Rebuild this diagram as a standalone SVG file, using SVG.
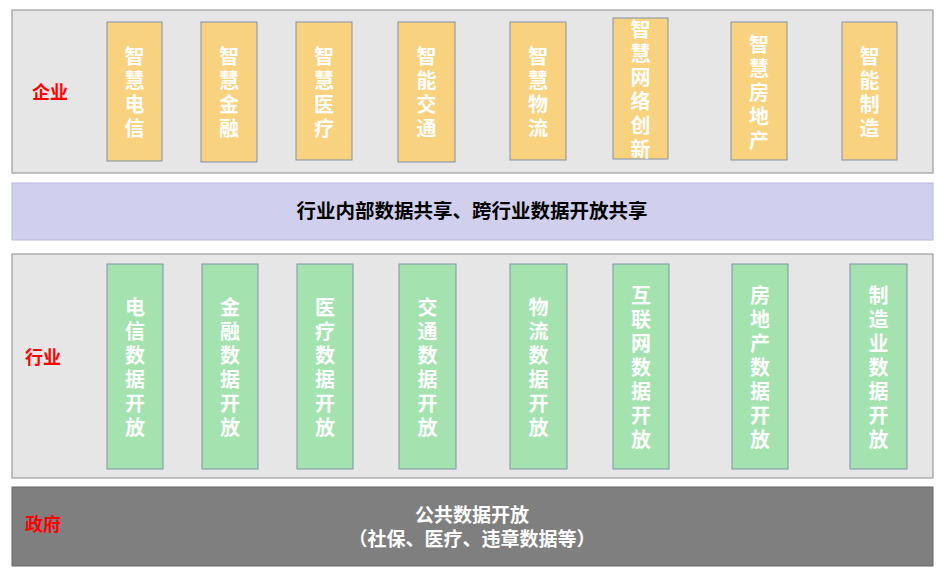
<svg xmlns="http://www.w3.org/2000/svg" width="945" height="574" viewBox="0 0 945 574">
<style>
.panel{fill:#e6e6e6;stroke:#8c8c8c;stroke-width:1}
.y{fill:#f8d27e;stroke:#7f93a8;stroke-width:1}
.g{fill:#a4e2b0;stroke:#7f93a8;stroke-width:1}
.vt{font-family:"Noto Sans CJK SC","Liberation Sans",sans-serif;font-weight:bold;font-size:20px;fill:#fff;text-anchor:middle}
.lbl{font-family:"Noto Sans CJK SC","Liberation Sans",sans-serif;font-weight:bold;font-size:18px;fill:#f00;text-anchor:middle}
.bt{font-family:"Noto Sans CJK SC","Liberation Sans",sans-serif;font-weight:bold;font-size:19.5px;fill:#000;text-anchor:middle}
.wt{font-family:"Noto Sans CJK SC","Liberation Sans",sans-serif;font-weight:bold;font-size:19px;fill:#fff;text-anchor:middle}
</style>
<g id="enterprise">
<rect class="panel" x="12" y="10" width="921" height="163"/>
<text class="lbl" x="50" y="99">企业</text>
</g>
<g id="share">
<rect x="12" y="183" width="921" height="57" fill="#d0d0ee" stroke="#b8b8d8"/>
<text class="bt" x="472" y="218">行业内部数据共享、跨行业数据开放共享</text>
</g>
<g id="industry">
<rect class="panel" x="12" y="254" width="921" height="224"/>
<text class="lbl" x="43" y="364">行业</text>
</g>
<g id="gov">
<rect x="12" y="487" width="921" height="79" fill="#7f7f7f" stroke="#666"/>
<text class="lbl" x="43" y="531">政府</text>
<text class="wt" x="472" y="522">公共数据开放</text>
<text class="wt" x="472" y="546">（社保、医疗、违章数据等）</text>
</g>
<g id="e1"><rect class="y" x="107" y="22" width="55" height="139"/><text class="vt" x="134.5" y="64">智<tspan x="134.5" dy="24">慧</tspan><tspan x="134.5" dy="24">电</tspan><tspan x="134.5" dy="24">信</tspan></text></g>
<g id="e2"><rect class="y" x="201" y="22" width="56" height="140"/><text class="vt" x="229" y="64">智<tspan x="229" dy="24">慧</tspan><tspan x="229" dy="24">金</tspan><tspan x="229" dy="24">融</tspan></text></g>
<g id="e3"><rect class="y" x="296" y="22" width="56" height="138"/><text class="vt" x="324" y="64">智<tspan x="324" dy="24">慧</tspan><tspan x="324" dy="24">医</tspan><tspan x="324" dy="24">疗</tspan></text></g>
<g id="e4"><rect class="y" x="398" y="22" width="57" height="140"/><text class="vt" x="426.5" y="64">智<tspan x="426.5" dy="24">能</tspan><tspan x="426.5" dy="24">交</tspan><tspan x="426.5" dy="24">通</tspan></text></g>
<g id="e5"><rect class="y" x="510" y="22" width="56" height="138"/><text class="vt" x="538" y="64">智<tspan x="538" dy="24">慧</tspan><tspan x="538" dy="24">物</tspan><tspan x="538" dy="24">流</tspan></text></g>
<g id="e6"><rect class="y" x="613" y="18" width="55" height="141"/><text class="vt" x="640.5" y="37">智<tspan x="640.5" dy="24">慧</tspan><tspan x="640.5" dy="24">网</tspan><tspan x="640.5" dy="24">络</tspan><tspan x="640.5" dy="24">创</tspan><tspan x="640.5" dy="24">新</tspan></text></g>
<g id="e7"><rect class="y" x="731" y="22" width="56" height="138"/><text class="vt" x="759" y="52">智<tspan x="759" dy="24">慧</tspan><tspan x="759" dy="24">房</tspan><tspan x="759" dy="24">地</tspan><tspan x="759" dy="24">产</tspan></text></g>
<g id="e8"><rect class="y" x="842" y="22" width="55" height="138"/><text class="vt" x="869.5" y="64">智<tspan x="869.5" dy="24">能</tspan><tspan x="869.5" dy="24">制</tspan><tspan x="869.5" dy="24">造</tspan></text></g>
<g id="i1"><rect class="g" x="107" y="264" width="56" height="205"/><text class="vt" x="135" y="315">电<tspan x="135" dy="24">信</tspan><tspan x="135" dy="24">数</tspan><tspan x="135" dy="24">据</tspan><tspan x="135" dy="24">开</tspan><tspan x="135" dy="24">放</tspan></text></g>
<g id="i2"><rect class="g" x="202" y="264" width="56" height="205"/><text class="vt" x="230" y="315">金<tspan x="230" dy="24">融</tspan><tspan x="230" dy="24">数</tspan><tspan x="230" dy="24">据</tspan><tspan x="230" dy="24">开</tspan><tspan x="230" dy="24">放</tspan></text></g>
<g id="i3"><rect class="g" x="297" y="264" width="56" height="205"/><text class="vt" x="325" y="315">医<tspan x="325" dy="24">疗</tspan><tspan x="325" dy="24">数</tspan><tspan x="325" dy="24">据</tspan><tspan x="325" dy="24">开</tspan><tspan x="325" dy="24">放</tspan></text></g>
<g id="i4"><rect class="g" x="399" y="264" width="57" height="205"/><text class="vt" x="427.5" y="315">交<tspan x="427.5" dy="24">通</tspan><tspan x="427.5" dy="24">数</tspan><tspan x="427.5" dy="24">据</tspan><tspan x="427.5" dy="24">开</tspan><tspan x="427.5" dy="24">放</tspan></text></g>
<g id="i5"><rect class="g" x="510" y="264" width="57" height="205"/><text class="vt" x="538.5" y="315">物<tspan x="538.5" dy="24">流</tspan><tspan x="538.5" dy="24">数</tspan><tspan x="538.5" dy="24">据</tspan><tspan x="538.5" dy="24">开</tspan><tspan x="538.5" dy="24">放</tspan></text></g>
<g id="i6"><rect class="g" x="613" y="264" width="56" height="205"/><text class="vt" x="641" y="303">互<tspan x="641" dy="24">联</tspan><tspan x="641" dy="24">网</tspan><tspan x="641" dy="24">数</tspan><tspan x="641" dy="24">据</tspan><tspan x="641" dy="24">开</tspan><tspan x="641" dy="24">放</tspan></text></g>
<g id="i7"><rect class="g" x="732" y="264" width="56" height="205"/><text class="vt" x="760" y="303">房<tspan x="760" dy="24">地</tspan><tspan x="760" dy="24">产</tspan><tspan x="760" dy="24">数</tspan><tspan x="760" dy="24">据</tspan><tspan x="760" dy="24">开</tspan><tspan x="760" dy="24">放</tspan></text></g>
<g id="i8"><rect class="g" x="850" y="264" width="57" height="205"/><text class="vt" x="878.5" y="303">制<tspan x="878.5" dy="24">造</tspan><tspan x="878.5" dy="24">业</tspan><tspan x="878.5" dy="24">数</tspan><tspan x="878.5" dy="24">据</tspan><tspan x="878.5" dy="24">开</tspan><tspan x="878.5" dy="24">放</tspan></text></g>
<g id="connectors"/>
</svg>
